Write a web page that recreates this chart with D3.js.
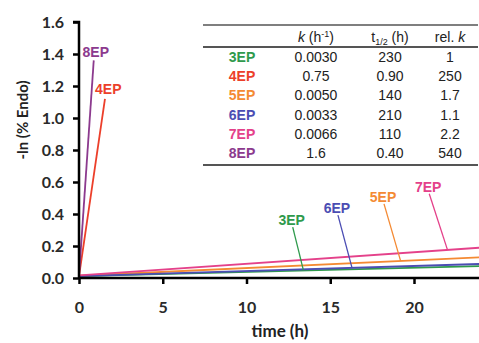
<!DOCTYPE html>
<html>
<head>
<meta charset="utf-8">
<script src="https://cdn.jsdelivr.net/npm/d3@7"></script>
<style>
  body { margin: 0; background: #fff; }
</style>
</head>
<body>
<div id="chart"></div>
<script>
// series names and colours
var names = ["3EP", "4EP", "5EP", "6EP", "7EP", "8EP"];
var colors = ["#2f9a4c", "#ec3f2a", "#f48a33", "#4b4db3", "#e4418a", "#8c3a8e"];

// line endpoints: [start t, end t], [start value, end value]
var lineT = [[0, 24], [0, 1.55], [0, 24], [0, 24], [0, 24], [0, 0.88]];
var lineV = [[0.012, 0.075], [0.01, 1.12], [0.014, 0.13], [0.012, 0.088], [0.016, 0.19], [0.01, 1.36]];

// label positions (data coords) and where the leader meets the line
var labelT = [12.7, 1.75, 18.15, 15.4, 20.85, 1.0];
var labelV = [0.362, 1.18, 0.507, 0.437, 0.57, 1.41];
var leaderT = [13.4, null, 19.2, 16.3, 22.0, null];

// table values
var kVals = ["0.0030", "0.75", "0.0050", "0.0033", "0.0066", "1.6"];
var halfLife = ["230", "0.90", "140", "210", "110", "0.40"];
var relK = ["1", "250", "1.7", "1.1", "2.2", "540"];

var yTicks = [0, 0.2, 0.4, 0.6, 0.8, 1.0, 1.2, 1.4, 1.6];
var xTicks = [0, 5, 10, 15, 20];

var W = 479, H = 343;
var svg = d3.select("#chart").append("svg")
    .attr("width", W)
    .attr("height", H);

var x = d3.scaleLinear().domain([0, 24]).range([79, 481]);
var y = d3.scaleLinear().domain([0, 1.6]).range([278, 22]);

var tickFont = "bold 16px Lato, 'Open Sans', sans-serif";

// lines
names.forEach(function (n, i) {
    var pts = [[lineT[i][0], lineV[i][0]], [lineT[i][1], lineV[i][1]]];
    svg.append("path")
        .datum(pts)
        .attr("d", d3.line().x(d => x(d[0])).y(d => y(d[1])))
        .style("fill", "none")
        .style("stroke", colors[i])
        .style("stroke-width", 1.8);
});

// labels + leaders
names.forEach(function (n, i) {
    svg.append("text")
        .attr("x", x(labelT[i]))
        .attr("y", y(labelV[i]))
        .attr("dy", "0.36em")
        .attr("text-anchor", "middle")
        .style("font", "bold 14px 'Liberation Sans', Arial, sans-serif")
        .style("fill", colors[i])
        .text(n);
    if (leaderT[i] != null) {
        var slope = (lineV[i][1] - lineV[i][0]) / (lineT[i][1] - lineT[i][0]);
        var endV = lineV[i][0] + slope * (leaderT[i] - lineT[i][0]);
        svg.append("line")
            .attr("x1", x(labelT[i]) + 1)
            .attr("y1", y(labelV[i]) + 7)
            .attr("x2", x(leaderT[i]))
            .attr("y2", y(endV))
            .style("stroke", colors[i])
            .style("stroke-width", 1.3);
    }
});

// axes
var xAxis = svg.append("g")
    .attr("transform", "translate(0,278)")
    .call(d3.axisBottom(x).tickValues(xTicks).tickSize(6).tickPadding(18).tickFormat(d3.format("d")));
var yAxis = svg.append("g")
    .attr("transform", "translate(79,0)")
    .call(d3.axisLeft(y).tickValues(yTicks).tickSize(6).tickPadding(9).tickFormat(d3.format(".1f")));

[xAxis, yAxis].forEach(function (g) {
    g.select(".domain").style("stroke", "#000").style("stroke-width", 2.5);
    g.selectAll(".tick line").style("stroke", "#000").style("stroke-width", 2.5);
    g.selectAll(".tick text").style("font", tickFont).style("fill", "#2a2a2a");
});
xAxis.select(".domain").attr("d", "M79,0H481");
yAxis.select(".domain").attr("d", "M-6,22H0V279");

// axis titles
svg.append("text")
    .attr("x", 280)
    .attr("y", 337)
    .attr("text-anchor", "middle")
    .style("font", "bold 17px Lato, 'Open Sans', sans-serif")
    .style("fill", "#222")
    .text("time (h)");

svg.append("text")
    .attr("transform", "translate(28,120) rotate(-90)")
    .attr("text-anchor", "middle")
    .style("font", "bold 15px Lato, 'Open Sans', sans-serif")
    .style("fill", "#222")
    .text("-ln (% Endo)");

// table
var colX = [242, 316, 390, 450];
var rowY = d3.scaleLinear().domain([0, 5]).range([57, 153]);
var tableFont = "14px 'Liberation Sans', Arial, sans-serif";

svg.append("line").attr("x1", 203).attr("x2", 478).attr("y1", 25).attr("y2", 25)
    .style("stroke", "#555").style("stroke-width", 1.6);
svg.append("line").attr("x1", 203).attr("x2", 478).attr("y1", 47).attr("y2", 47)
    .style("stroke", "#555").style("stroke-width", 2.2);
svg.append("line").attr("x1", 203).attr("x2", 478).attr("y1", 165).attr("y2", 165)
    .style("stroke", "#555").style("stroke-width", 2.2);

var hdr = svg.append("g").style("font", tableFont).style("fill", "#222");
var h1 = hdr.append("text").attr("x", colX[1]).attr("y", 42).attr("text-anchor", "middle");
h1.append("tspan").style("font-style", "italic").text("k");
h1.append("tspan").text(" (h");
h1.append("tspan").attr("dy", -5).style("font-size", "9px").text("-1");
h1.append("tspan").attr("dy", 5).text(")");
var h2 = hdr.append("text").attr("x", colX[2]).attr("y", 42).attr("text-anchor", "middle");
h2.append("tspan").text("t");
h2.append("tspan").attr("dy", 3).style("font-size", "9px").text("1/2");
h2.append("tspan").attr("dy", -3).text(" (h)");
var h3 = hdr.append("text").attr("x", colX[3]).attr("y", 42).attr("text-anchor", "middle");
h3.append("tspan").text("rel. ");
h3.append("tspan").style("font-style", "italic").text("k");

names.forEach(function (n, i) {
    var cy = rowY(i);
    svg.append("text")
        .attr("x", colX[0]).attr("y", cy).attr("dy", "0.36em")
        .attr("text-anchor", "middle")
        .style("font", "bold 14px 'Liberation Sans', Arial, sans-serif")
        .style("fill", colors[i])
        .text(n);
    [kVals[i], halfLife[i], relK[i]].forEach(function (v, j) {
        svg.append("text")
            .attr("x", colX[j + 1]).attr("y", cy).attr("dy", "0.36em")
            .attr("text-anchor", "middle")
            .style("font", tableFont)
            .style("fill", "#222")
            .text(v);
    });
});
</script>
</body>
</html>
